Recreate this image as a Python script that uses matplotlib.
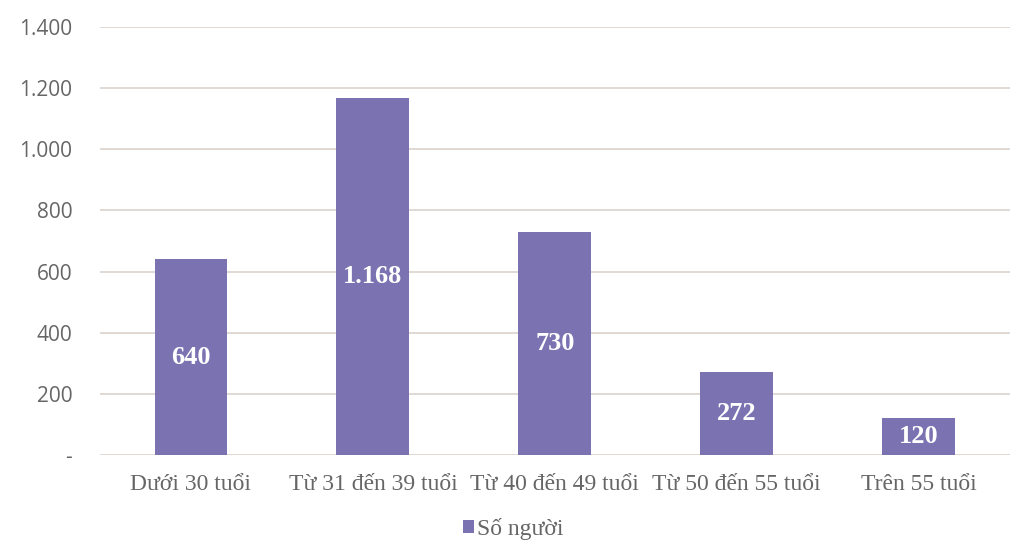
import matplotlib
matplotlib.use("Agg")
import matplotlib.pyplot as plt
from matplotlib.ticker import FuncFormatter

# data
categories = ["Dưới 30 tuổi", "Từ 31 đến 39 tuổi", "Từ 40 đến 49 tuổi",
              "Từ 50 đến 55 tuổi", "Trên 55 tuổi"]
values = [640, 1168, 730, 272, 120]
value_labels = ["640", "1.168", "730", "272", "120"]
series_name = "Số người"
y_ticks = [0, 200, 400, 600, 800, 1000, 1200, 1400]

bar_color = "#7b72b2"
grid_color = "#ddd6d0"
text_gray = "#666666"

fig = plt.figure(figsize=(10.13, 5.40), dpi=100)
ax = fig.add_axes([0.0987, 0.1574, 0.898, 0.7926])

x = list(range(len(categories)))
bars = ax.bar(x, values, width=0.4, color=bar_color, zorder=3, label=series_name)

# labels centered in each bar
for rect, lab in zip(bars, value_labels):
    ax.text(rect.get_x() + rect.get_width() / 2, rect.get_height() / 2, lab,
            ha="center", va="center", color="white", fontsize=19,
            fontweight="bold", family="Liberation Serif", zorder=4)

ax.set_xlim(-0.5, len(categories) - 0.5)
ax.set_ylim(0, 1400)
ax.set_yticks(y_ticks)

def fmt(v, pos):
    if v == 0:
        return "-"
    return f"{int(v):,}".replace(",", ".")

ax.yaxis.set_major_formatter(FuncFormatter(fmt))
ax.set_xticks(x)
ax.set_xticklabels(categories, family="Liberation Serif", fontsize=17, color=text_gray)
for t in ax.get_yticklabels():
    t.set_family("Open Sans")
    t.set_fontsize(15)
    t.set_color(text_gray)

ax.tick_params(axis="y", length=0, pad=20)
ax.tick_params(axis="x", length=0, pad=14)
ax.grid(axis="y", color=grid_color, linewidth=1.3, zorder=0)
for s in ax.spines.values():
    s.set_visible(False)

fig.legend(handles=[bars], labels=[series_name], loc="center",
           bbox_to_anchor=(0.507, 0.02), frameon=False, handlelength=0.45,
           handleheight=0.45, handletextpad=0.15,
           prop={"family": "Liberation Serif", "size": 17})
for t in fig.legends[0].get_texts():
    t.set_color(text_gray)

fig.savefig("out.png", dpi=100, facecolor="white")
